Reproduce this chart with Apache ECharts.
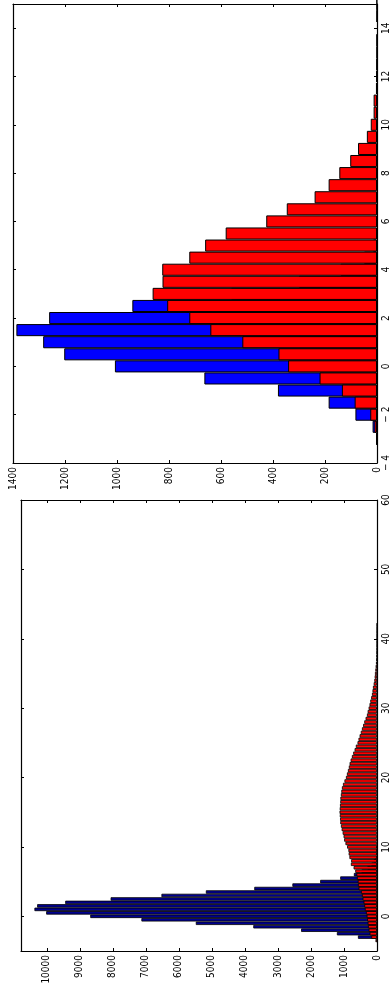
<!DOCTYPE html>
<html>
<head>
<meta charset="utf-8">
<script src="https://cdn.jsdelivr.net/npm/echarts@6/dist/echarts.min.js"></script>
<style>
  html, body { margin: 0; padding: 0; background: #fff; }
  #chart { width: 389px; height: 985px; }
</style>
</head>
<body>
<div id="chart"></div>
<script>
// upper histogram, bins of 0.5 from -4 to 15
const topBinStart = -4, topBinEnd = 15, topBinWidth = 0.5;
const topBlueStart = -3;
const topBlue = [1, 17, 83, 186, 381, 664, 1008, 1203, 1284, 1387, 1261, 941, 560, 300, 140, 50, 15];
const topRedStart = -3;
const topRed = [2, 10, 26, 86, 135, 221, 342, 379, 518, 641, 722, 807, 863, 825, 826, 722, 661, 582,
  426, 347, 240, 186, 145, 103, 73, 39, 24, 13, 13, 4, 3, 2, 1, 1, 0, 1, 1];
const topCountTicks = [0, 200, 400, 600, 800, 1000, 1200, 1400];
const topLabelEvery = 2;

// lower histogram, bins of 0.5 from -5 to 60
const botBinStart = -5, botBinEnd = 60, botBinWidth = 0.5;
const botBlueStart = -3;
const botBlue = [577, 1214, 2298, 3746, 5486, 7134, 8683, 10018, 10373, 10291, 9441, 8066, 6527,
  5182, 3716, 2562, 1721, 1114, 700, 470, 290, 170, 95, 50, 25, 12, 5];
const botRedStart = -3.5;
const botRed = [45, 172, 223, 253, 273, 282, 300, 312, 334, 368, 385, 405, 435, 456, 486, 557, 577,
  582, 608, 622, 658, 709, 790, 782, 835, 858, 866, 905, 955, 995, 1012, 1040, 1070, 1092, 1112,
  1118, 1126, 1134, 1128, 1120, 1112, 1108, 1093, 1080, 1062, 1030, 985, 940, 910, 880, 852, 830,
  798, 760, 720, 678, 640, 590, 560, 527, 490, 456, 420, 385, 345, 304, 282, 253, 226, 203, 176,
  152, 136, 122, 100, 81, 70, 61, 50, 41, 30, 20, 14, 10, 7, 5, 4, 3, 2, 2, 1, 1];
const botCountTicks = [0, 1000, 2000, 3000, 4000, 5000, 6000, 7000, 8000, 9000, 10000];
const botLabelEvery = 10;

const FONT = "'Liberation Sans Narrow', 'DejaVu Sans Condensed', 'Liberation Sans', sans-serif";

function binList(a, b, step) {
  const out = [];
  for (let i = 0; a + i * step <= b; i++) out.push(String(a + i * step));
  return out;
}

// counts placed on the bin list, '-' where there is no bar
function spread(bins, start, counts, step) {
  return bins.map(function (b) {
    const i = Math.round((Number(b) - start) / step);
    return (i >= 0 && i < counts.length && counts[i] > 0) ? counts[i] : '-';
  });
}

function fmt(v) {
  v = Number(v);
  return v < 0 ? '\u2212 ' + (-v) : String(v);
}

const topBins = binList(topBinStart, topBinEnd, topBinWidth);
const botBins = binList(botBinStart, botBinEnd, botBinWidth);

function countAxis(grid, max, ticks, pos, labels) {
  return {
    type: 'value', gridIndex: grid, min: 0, max: max, inverse: true, position: pos,
    splitLine: { show: false },
    axisLine: { show: true, onZero: false, lineStyle: { color: '#000', width: 1.2 } },
    axisTick: { show: true, inside: true, length: 3, customValues: ticks, lineStyle: { color: '#000' } },
    axisLabel: {
      show: labels, rotate: 90, margin: 4, customValues: ticks, formatter: fmt,
      color: '#000', fontSize: 10, fontFamily: FONT
    }
  };
}

function binAxis(grid, bins, every, pos, labels) {
  const pick = function (index, value) { return Number(value) % every === 0; };
  return {
    type: 'category', gridIndex: grid, data: bins, boundaryGap: false, position: pos,
    splitLine: { show: false },
    axisLine: { show: true, onZero: false, lineStyle: { color: '#000', width: 1.2 } },
    axisTick: { show: true, inside: true, length: 3, interval: pick, lineStyle: { color: '#000' } },
    axisLabel: {
      show: labels, rotate: 90, margin: 4, interval: pick, formatter: fmt,
      color: '#000', fontSize: 10, fontFamily: FONT
    }
  };
}

function histSeries(idx, data, color, lw) {
  return {
    type: 'bar',
    xAxisIndex: idx * 2,
    yAxisIndex: idx * 2,
    data: data,
    barGap: '-100%',
    barCategoryGap: '0%',
    silent: true,
    itemStyle: { color: color, borderColor: '#000', borderWidth: lw }
  };
}

const chart = echarts.init(document.getElementById('chart'));
chart.setOption({
  animation: false,
  backgroundColor: '#fff',
  grid: [
    { left: 13, right: 12, top: 4, height: 459, outerBoundsMode: 'none' },
    { left: 21, right: 12, top: 500, height: 451, outerBoundsMode: 'none' }
  ],
  xAxis: [
    countAxis(0, 1400, topCountTicks, 'bottom', true),
    countAxis(0, 1400, topCountTicks, 'top', false),
    countAxis(1, 10780, botCountTicks, 'bottom', true),
    countAxis(1, 10780, botCountTicks, 'top', false)
  ],
  yAxis: [
    binAxis(0, topBins, topLabelEvery, 'right', true),
    binAxis(0, topBins, topLabelEvery, 'left', false),
    binAxis(1, botBins, botLabelEvery, 'right', true),
    binAxis(1, botBins, botLabelEvery, 'left', false)
  ],
  series: [
    histSeries(0, spread(topBins, topBlueStart, topBlue, topBinWidth), '#0000ff', 1),
    histSeries(0, spread(topBins, topRedStart, topRed, topBinWidth), '#ff0000', 1),
    histSeries(1, spread(botBins, botBlueStart, botBlue, botBinWidth), '#00008f', 0.8),
    histSeries(1, spread(botBins, botRedStart, botRed, botBinWidth), '#ff0000', 0.8)
  ]
});
</script>
</body>
</html>
